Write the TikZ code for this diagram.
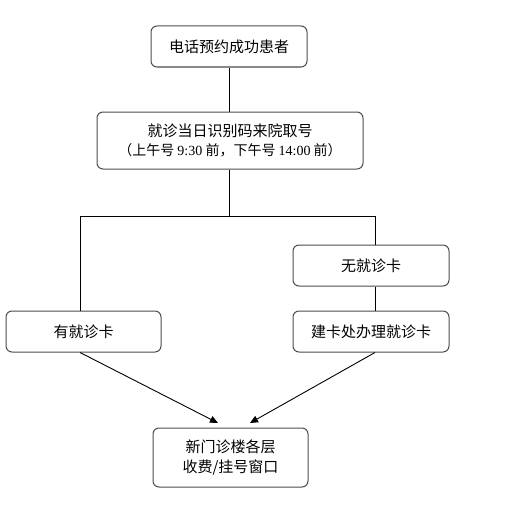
\documentclass[tikz,border=0pt]{standalone}
\usepackage{fontspec}
\setmainfont{Noto Sans CJK SC}
\newfontfamily\numfont{Liberation Serif}
\usepackage{tikz}
\usetikzlibrary{arrows.meta}

\begin{document}
\begin{tikzpicture}[
  x=1pt, y=-1pt,
  >={Triangle[length=8pt,width=7pt]},
  stepbox/.style={draw=black!70, line width=1pt, rounded corners=6pt, align=center,
    inner sep=0pt, font=\fontsize{15}{20}\selectfont},
  link/.style={draw=black, line width=0.9pt},
]
\useasboundingbox (0,0) rectangle (511,519);

% --- Boxes ---
\node[stepbox, minimum width=156pt, minimum height=41pt] (call) at (229,46.5) {电话预约成功患者};
\node[stepbox, minimum width=266pt, minimum height=57pt] (code) at (230,140.5)
  {就诊当日识别码来院取号\\[-1pt]
   {\fontsize{14}{16}\selectfont （上午号 {\numfont 9:30} 前，下午号 {\numfont 14:00} 前）}};
\node[stepbox, minimum width=155pt, minimum height=41pt] (hascard) at (83.5,331.5) {有就诊卡};
\node[stepbox, minimum width=156pt, minimum height=41pt] (nocard) at (371,265.5) {无就诊卡};
\node[stepbox, minimum width=156pt, minimum height=41pt] (makecard) at (371,331.5) {建卡处办理就诊卡};
\node[stepbox, minimum width=155pt, minimum height=59pt] (window) at (230.5,457.5) {新门诊楼各层\\收费/挂号窗口};

% --- Branch points ---
\coordinate (split) at (229,216);
\coordinate (lbranch) at (80,216);
\coordinate (rbranch) at (375,216);
\coordinate (inL) at (218,423);
\coordinate (inR) at (250,423);

% --- Connectors ---
\draw[link] (call.south -| split) -- (code.north -| split);
\draw[link] (code.south -| split) -- (split);
\draw[link] (lbranch) -- (rbranch);
\draw[link] (lbranch) -- (hascard.north -| lbranch);
\draw[link] (rbranch) -- (nocard.north -| rbranch);
\draw[link] (nocard.south -| rbranch) -- (makecard.north -| rbranch);
\draw[link, ->] (hascard.south -| lbranch) -- (inL);
\draw[link, ->] (makecard.south -| rbranch) -- (inR);

\end{tikzpicture}
\end{document}
